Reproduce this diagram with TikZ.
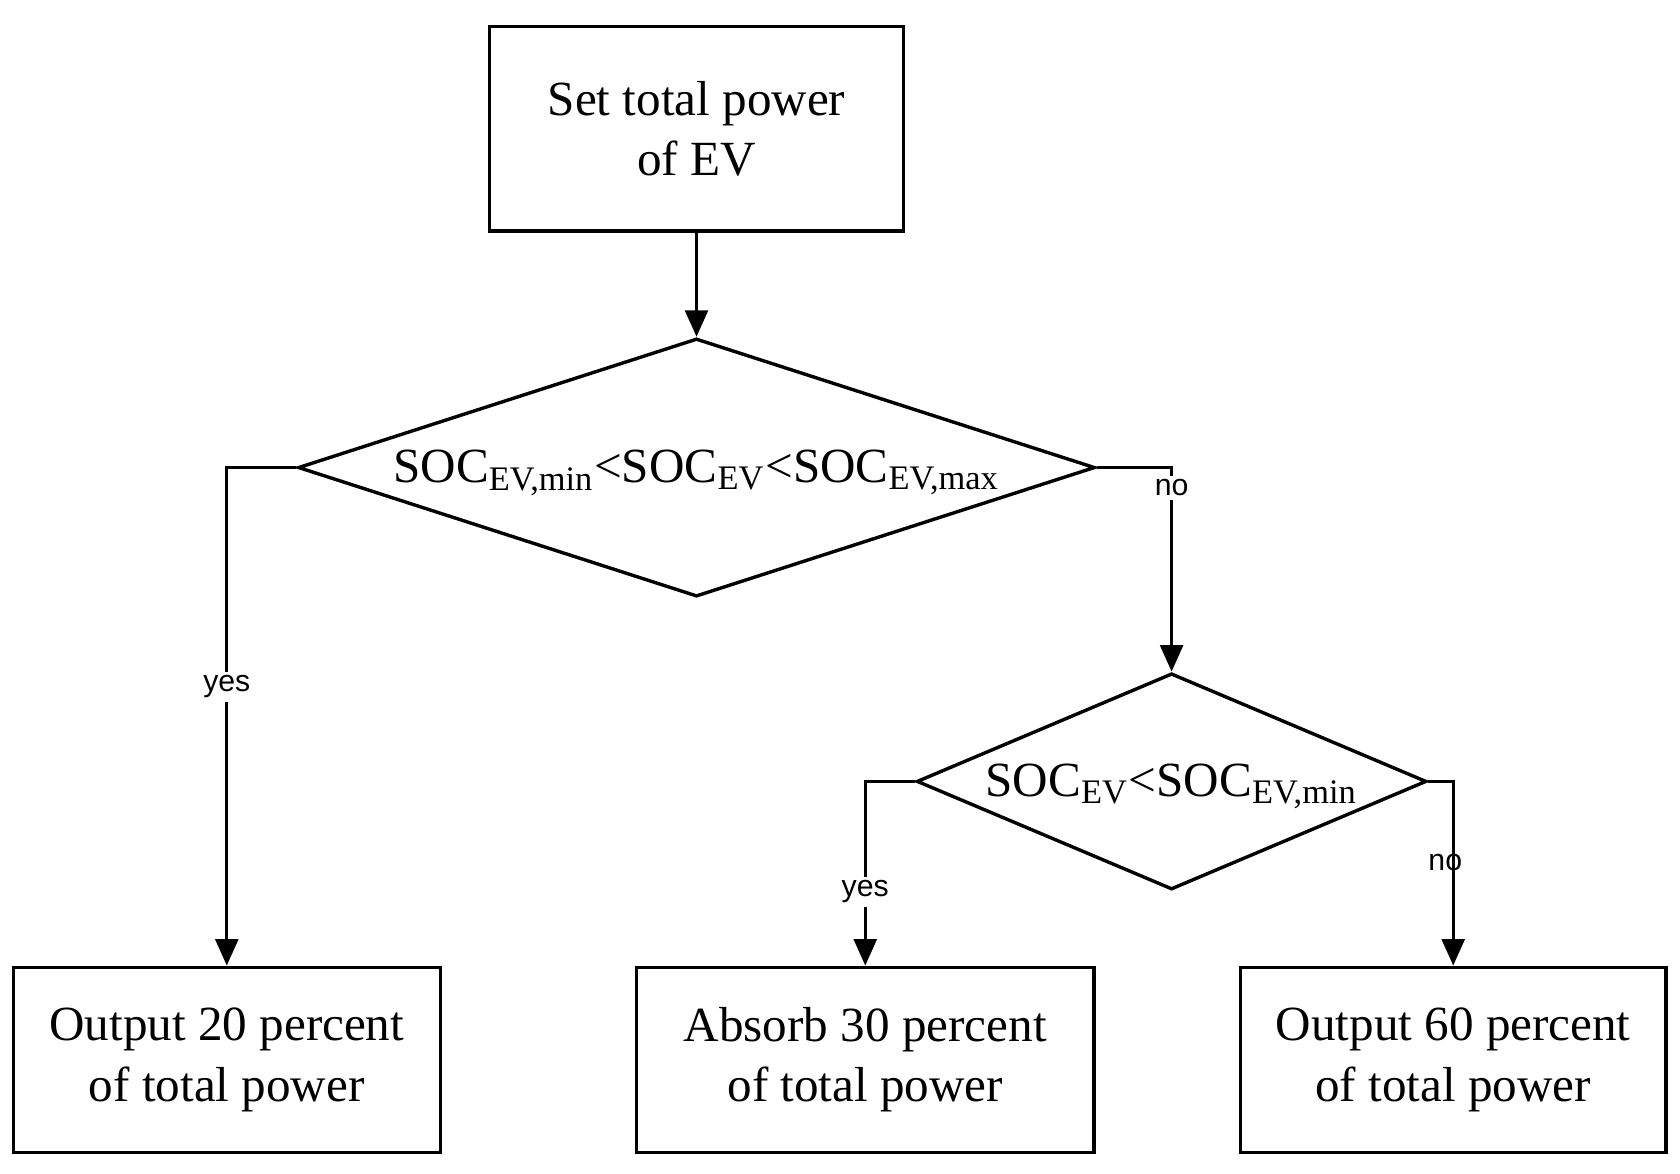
\documentclass[tikz,border=0pt]{standalone}
\usepackage{fontspec}
\setmainfont{Liberation Serif}
\newfontfamily\lblfont{Liberation Sans}
\usetikzlibrary{arrows.meta,shapes.geometric}
\begin{document}
\begin{tikzpicture}[x=0.01cm,y=-0.01cm,>={Triangle[length=7pt,width=6pt]},line width=0.9pt,
  box/.style={draw,rectangle,align=center,font=\fontsize{13}{16}\selectfont},
  dec/.style={draw,diamond,inner sep=0pt},
  txt/.style={font=\fontsize{13}{16}\selectfont,inner sep=0pt},
  lbl/.style={fill=white,font=\lblfont\fontsize{8}{9}\selectfont,inner sep=1pt}]
  \useasboundingbox (0,0) rectangle (1563,1092);
  \node [box,minimum width=3.85cm,minimum height=1.9cm] (set) at (648,120) {Set total power\\of EV};
  \node [dec,minimum width=7.41cm,minimum height=2.4cm] (d1) at (648,435) {};
  \node [txt] (t1) at (648,440) {SOC\textsubscript{EV,min}<SOC\textsubscript{EV}<SOC\textsubscript{EV,max}};
  \node [dec,minimum width=4.74cm,minimum height=2.01cm] (d2) at (1090,727) {};
  \node [txt] (t2) at (1090,732) {SOC\textsubscript{EV}<SOC\textsubscript{EV,min}};
  \node [box,minimum width=3.97cm,minimum height=1.72cm] (out20) at (211,986) {Output 20 percent\\of total power};
  \node [box,minimum width=4.25cm,minimum height=1.72cm] (abs30) at (805,986) {Absorb 30 percent\\of total power};
  \node [box,minimum width=3.96cm,minimum height=1.72cm] (out60) at (1352,986) {Output 60 percent\\of total power};

  \draw [->] (set) -- (d1.north);
  \draw [->] (d1.west) -| node [lbl,pos=0.72] (y1) {yes} (out20.north);
  \draw [->] (d1.east) -| node [lbl,pos=0.55] (n1) {no} (d2.north);
  \draw [->] (d2.west) -| node [lbl,pos=0.8] (y2) {yes} (abs30.north);
  \draw [->] (d2.east) -| node [lbl,pos=0.72,right=-8pt,fill=none] (n2) {no} (out60.north);
\end{tikzpicture}
\end{document}
